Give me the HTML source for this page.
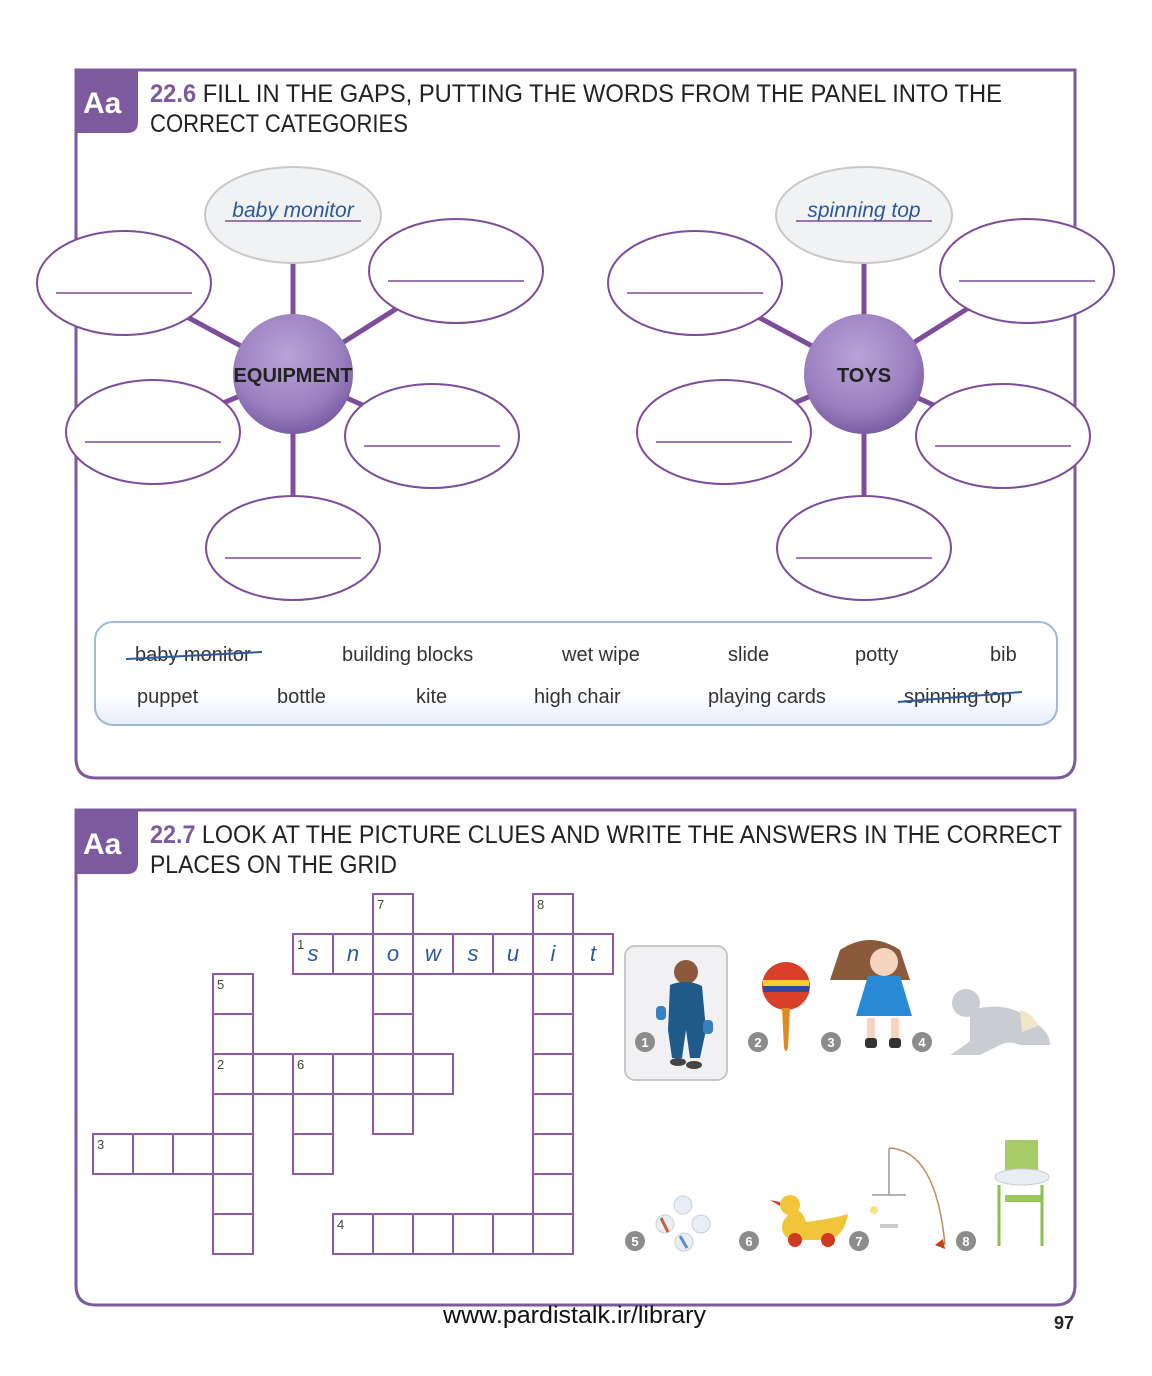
<!DOCTYPE html>
<html><head><meta charset="utf-8"><style>
html,body{margin:0;padding:0;background:#fff;}
svg{display:block;}
text{font-family:"Liberation Sans",sans-serif;}
</style></head><body>
<svg id="pg" width="1152" height="1376" viewBox="0 0 1152 1376" xmlns="http://www.w3.org/2000/svg">
<defs>
<radialGradient id="ball" cx="45%" cy="35%" r="65%">
<stop offset="0" stop-color="#b9a3d6"/><stop offset="0.7" stop-color="#9a7fc0"/><stop offset="1" stop-color="#7a5ea3"/>
</radialGradient>
<linearGradient id="panelg" x1="0" y1="0" x2="0" y2="1"><stop offset="0" stop-color="#fff"/><stop offset="0.7" stop-color="#fff"/><stop offset="1" stop-color="#e6eef8"/></linearGradient>
</defs>

<!-- Section 22.6 -->
<g>
<path d="M76 70 H1075 V758 Q1075 778 1055 778 H96 Q76 778 76 758 Z" fill="none" stroke="#7d5a9e" stroke-width="3"/>
<path d="M76 70 H138 V122 Q138 133 127 133 H76 Z" fill="#7d5a9e"/>
<text x="83" y="113" font-family="Liberation Serif,serif" font-weight="bold" font-size="30" fill="#fff">Aa</text>
<text x="150" y="102" font-size="25" fill="#222" textLength="852" lengthAdjust="spacingAndGlyphs"><tspan fill="#7d5a9e" font-weight="bold">22.6</tspan> FILL IN THE GAPS, PUTTING THE WORDS FROM THE PANEL INTO THE</text>
<text x="150" y="132" font-size="25" fill="#222" textLength="258" lengthAdjust="spacingAndGlyphs">CORRECT CATEGORIES</text>
</g>
<g id="maps"></g>

<!-- Word panel -->
<g>
<rect x="95" y="622" width="962" height="103" rx="18" fill="url(#panelg)" stroke="#9db8d8" stroke-width="2"/>
<g font-size="20" fill="#333">
<text x="135" y="661">baby monitor</text>
<line x1="126" y1="659" x2="262" y2="652" stroke="#2a5a9a" stroke-width="2"/>
<text x="342" y="661">building blocks</text>
<text x="562" y="661">wet wipe</text>
<text x="728" y="661">slide</text>
<text x="855" y="661">potty</text>
<text x="990" y="661">bib</text>
<text x="137" y="703">puppet</text>
<text x="277" y="703">bottle</text>
<text x="416" y="703">kite</text>
<text x="534" y="703">high chair</text>
<text x="708" y="703">playing cards</text>
<text x="904" y="703">spinning top</text>
<line x1="898" y1="702" x2="1022" y2="692" stroke="#2a5a9a" stroke-width="2"/>
</g>
</g>

<!-- Section 22.7 -->
<g>
<path d="M76 810 H1075 V1285 Q1075 1305 1055 1305 H96 Q76 1305 76 1285 Z" fill="none" stroke="#7d5a9e" stroke-width="3"/>
<path d="M76 810 H138 V863 Q138 874 127 874 H76 Z" fill="#7d5a9e"/>
<text x="83" y="854" font-family="Liberation Serif,serif" font-weight="bold" font-size="30" fill="#fff">Aa</text>
<text x="150" y="843" font-size="25" fill="#222" textLength="912" lengthAdjust="spacingAndGlyphs"><tspan fill="#7d5a9e" font-weight="bold">22.7</tspan> LOOK AT THE PICTURE CLUES AND WRITE THE ANSWERS IN THE CORRECT</text>
<text x="150" y="873" font-size="25" fill="#222" textLength="247" lengthAdjust="spacingAndGlyphs">PLACES ON THE GRID</text>
</g>
<g id="grid"></g>

<!-- Picture clues -->
<g>
<rect x="625" y="946" width="102" height="134" rx="10" fill="#f1f1f3" stroke="#c8c8c8" stroke-width="2"/>
<g>
<circle cx="686" cy="972" r="12" fill="#8a5a3a"/>
<path d="M670 985 Q686 978 702 986 L706 1030 L700 1058 L690 1058 L686 1030 L682 1058 L672 1058 L668 1030 Z" fill="#1f5a8a"/>
<rect x="656" y="1006" width="10" height="14" rx="4" fill="#3a80c0"/><rect x="703" y="1020" width="10" height="14" rx="4" fill="#3a80c0"/>
<ellipse cx="678" cy="1062" rx="8" ry="4" fill="#444"/><ellipse cx="694" cy="1065" rx="8" ry="4" fill="#444"/>
</g>
<g>
<circle cx="786" cy="986" r="24" fill="#d9402a"/><rect x="763" y="980" width="46" height="6" fill="#f2d22a"/><rect x="763" y="986" width="46" height="6" fill="#2a4a9a"/>
<path d="M782 1008 h8 l-2 40 q-2 6 -4 0 z" fill="#e08a20"/>
</g>
<g>
<path d="M840 950 q30 -20 60 0 l10 30 h-80 z" fill="#8a5a3a"/>
<circle cx="884" cy="962" r="14" fill="#f4d4c0"/>
<path d="M868 976 h32 l12 40 h-56 z" fill="#2a8ad8"/>
<rect x="867" y="1018" width="8" height="22" fill="#f4d4c0"/><rect x="891" y="1018" width="8" height="22" fill="#f4d4c0"/>
<rect x="865" y="1038" width="12" height="10" rx="3" fill="#333"/><rect x="889" y="1038" width="12" height="10" rx="3" fill="#333"/>
</g>
<g fill="#c9ccd0">
<circle cx="966" cy="1003" r="14"/><path d="M970 1010 q40 -10 60 10 q20 10 20 25 h-30 q-10 -5 -20 0 l-20 10 h-30 q10 -6 20 -14 z"/>
<path d="M1020 1010 q14 4 18 16 l-16 6 z" fill="#f0e6c8"/>
</g>
<g fill="#e8eef4" stroke="#c8d0d8">
<circle cx="683" cy="1205" r="9"/><circle cx="665" cy="1224" r="9"/><circle cx="701" cy="1224" r="9"/><circle cx="684" cy="1242" r="9"/>
<line x1="661" y1="1218" x2="668" y2="1232" stroke="#c0603a" stroke-width="3"/><line x1="680" y1="1236" x2="687" y2="1248" stroke="#5a8ad0" stroke-width="3"/>
</g>
<g>
<path d="M792 1210 q10 -2 14 12 q30 -4 42 -8 q-4 24 -22 26 h-36 q-12 -8 -6 -20 z" fill="#f2c43a"/>
<circle cx="790" cy="1205" r="10" fill="#f2c43a"/><path d="M780 1202 l-10 -2 l10 6 z" fill="#d04020"/>
<circle cx="795" cy="1240" r="7" fill="#d03a20"/><circle cx="828" cy="1240" r="7" fill="#d03a20"/>
</g>
<g stroke="#c08a60" fill="none" stroke-width="1.5">
<path d="M889 1148 Q936 1150 945 1245"/><line x1="889" y1="1148" x2="889" y2="1195" stroke="#999"/>
<line x1="872" y1="1195" x2="906" y2="1195" stroke="#999"/>
<circle cx="874" cy="1210" r="4" fill="#f2e48a" stroke="none"/><path d="M880 1226 h18" stroke="#ccc" stroke-width="4"/>
<path d="M935 1245 l8 -6 l2 10 z" fill="#c04020" stroke="none"/>
</g>
<g>
<rect x="1005" y="1140" width="33" height="38" fill="#a6cc6a"/><ellipse cx="1022" cy="1177" rx="27" ry="8" fill="#e8eef4" stroke="#ccc"/>
<rect x="1005" y="1195" width="36" height="7" fill="#9ac85a"/>
<line x1="999" y1="1185" x2="999" y2="1246" stroke="#8ac050" stroke-width="3"/><line x1="1042" y1="1185" x2="1042" y2="1246" stroke="#8ac050" stroke-width="3"/>
</g>
<g id="badges" font-size="13" font-weight="bold" fill="#fff"></g>
</g>

<text x="443" y="1323" font-size="24" fill="#111" textLength="263" lengthAdjust="spacingAndGlyphs">www.pardistalk.ir/library</text>
<text x="1054" y="1329" font-size="18" font-weight="bold" fill="#222">97</text>
</svg>
<script>
var NS="http://www.w3.org/2000/svg";
function mk(tag,attrs,parent){var e=document.createElementNS(NS,tag);for(var k in attrs)e.setAttribute(k,attrs[k]);parent.appendChild(e);return e;}
var mapCenters=[[293,"EQUIPMENT","baby monitor"],[864,"TOYS","spinning top"]];
var bubbleOffsets=[[-169,-91],[163,-103],[-140,58],[139,62],[0,174]];
var maps=document.getElementById('maps');
mapCenters.forEach(function(m){
  var cx=m[0],cy=374;
  var g=mk('g',{},maps);
  
  
  bubbleOffsets.forEach(function(o){mk('line',{x1:cx,y1:cy,x2:cx+o[0],y2:cy+o[1],stroke:'#7d4c9a','stroke-width':5},g);});
  mk('line',{x1:cx,y1:cy,x2:cx,y2:215,stroke:'#7d4c9a','stroke-width':5},g);
  var top=mk('ellipse',{cx:cx,cy:215,rx:88,ry:48,fill:'#f1f2f4',stroke:'#c8c8c8','stroke-width':2},g);
  
  
  var t=mk('text',{x:cx,y:217,'text-anchor':'middle','font-size':21,'font-style':'italic',fill:'#2a5a9a','font-family':'Liberation Serif,serif'},g);t.textContent=m[2];
  mk('line',{x1:cx-68,y1:221,x2:cx+68,y2:221,stroke:'#7d4c9a','stroke-width':1.5},g);
  bubbleOffsets.forEach(function(o,i){
    var e=mk('ellipse',{cx:cx+o[0],cy:cy+o[1],rx:87,ry:52,fill:'#fff',stroke:'#7d4c9a','stroke-width':2},g);
    
    
    mk('line',{x1:cx+o[0]-68,y1:cy+o[1]+10,x2:cx+o[0]+68,y2:cy+o[1]+10,stroke:'#7d4c9a','stroke-width':1.5},g);
  });
  var c=mk('circle',{cx:cx,cy:cy,r:60,fill:'url(#ball)'},g);
  
  
  var l=mk('text',{x:cx,y:cy+8,'text-anchor':'middle','font-size':20,'font-weight':'bold',fill:'#222'},g);l.textContent=m[1];
});
// crossword
var clueNums=[1,2,3,4,5,6,7,8];
var startCols=[5,3,0,6,3,5,7,11];
var startRows=[1,4,6,8,2,4,0,0];
var lengths=[8,6,4,6,7,3,6,9];
var dirs=['a','a','a','a','d','d','d','d'];
var answer1=['s','n','o','w','s','u','i','t'];
var X0=93,Y0=894,CS=40;
var grid=document.getElementById('grid');var seen={};
clueNums.forEach(function(n,i){
  for(var k=0;k<lengths[i];k++){
    var c=startCols[i]+(dirs[i]=='a'?k:0),r=startRows[i]+(dirs[i]=='d'?k:0);
    if(seen[c+','+r])continue;seen[c+','+r]=1;
    var rc=mk('rect',{x:X0+c*CS,y:Y0+r*CS,width:CS,height:CS,fill:'#fff',stroke:'#8a5aa8','stroke-width':2},grid);
    
    
  }
});
clueNums.forEach(function(n,i){
  var t=mk('text',{x:X0+startCols[i]*CS+4,y:Y0+startRows[i]*CS+15,'font-size':13,fill:'#444'},grid);t.textContent=n;
});
answer1.forEach(function(ch,k){
  var t=mk('text',{x:X0+(startCols[0]+k)*CS+20,y:Y0+startRows[0]*CS+27,'text-anchor':'middle','font-size':22,'font-style':'italic',fill:'#2a5a9a','font-family':'Liberation Serif,serif'},grid);t.textContent=ch;
});
// badges
var badgeNums=[1,2,3,4,5,6,7,8];
var badgeX=[645,758,831,922,635,749,859,966];
var badgeY=[1042,1042,1042,1042,1241,1241,1241,1241];
var bg=document.getElementById('badges');
badgeNums.forEach(function(n,i){
  var c=mk('circle',{cx:badgeX[i],cy:badgeY[i],r:10,fill:'#8c8c8c'},bg);
  
  
  var t=mk('text',{x:badgeX[i],y:badgeY[i]+5,'text-anchor':'middle'},bg);t.textContent=n;
});
</script>
</body></html>
